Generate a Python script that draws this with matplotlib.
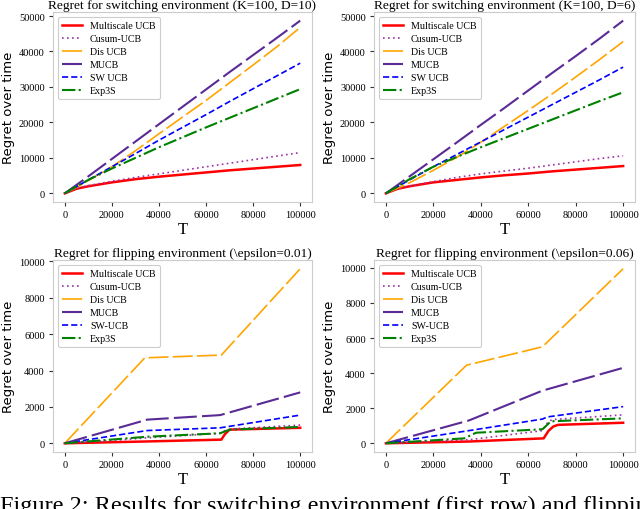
import matplotlib
matplotlib.use("Agg")
import matplotlib.pyplot as plt

# ---------------- data ----------------
labels = ["Multiscale UCB", "Cusum-UCB", "Dis UCB", "MUCB", "SW UCB", "Exp3S"]
labels_flip = ["Multiscale UCB", "Cusum-UCB", "Dis UCB", "MUCB", "SW-UCB", "Exp3S"]

titles = [
    "Regret for switching environment (K=100, D=10)",
    "Regret for switching environment (K=100, D=6)",
    "Regret for flipping environment (\\epsilon=0.01)",
    "Regret for flipping environment (\\epsilon=0.06)",
]

# switching, D=10
sw_t = [0, 5000, 10000, 20000, 30000, 40000, 50000, 60000, 70000, 80000, 90000, 100000]
d10_multiscale = [0, 1300, 2000, 3100, 4000, 4700, 5300, 5900, 6500, 7000, 7500, 8000]
d10_cusum = [0, 1400, 2200, 3400, 4500, 5500, 6500, 7500, 8500, 9500, 10500, 11500]
d10_dis = [0, 1700, 3600, 7500, 12000, 16800, 21500, 26200, 31200, 36200, 41300, 46800]
d10_mucb = [0, 2400, 4800, 9700, 14600, 19500, 24400, 29300, 34200, 39000, 43800, 48700]
d10_sw = [0, 1900, 3800, 7500, 11200, 15000, 18600, 22200, 25900, 29500, 33100, 36700]
d10_exp3s = [0, 2000, 3800, 7000, 10000, 13000, 15800, 18600, 21300, 24000, 26700, 29400]

# switching, D=6
d6_multiscale = [0, 1300, 2000, 3100, 3800, 4500, 5100, 5600, 6200, 6700, 7200, 7700]
d6_cusum = [0, 1400, 2100, 3300, 4500, 5500, 6300, 7100, 8000, 8900, 9800, 10600]
d6_dis = [0, 1500, 3000, 6500, 10200, 14400, 18900, 23400, 28000, 32800, 37700, 42800]
d6_mucb = [0, 2400, 4800, 9600, 14400, 19300, 24100, 29000, 33900, 38700, 43600, 48700]
d6_sw = [0, 1900, 3800, 7500, 11000, 14500, 18000, 21500, 25000, 28500, 32000, 35600]
d6_exp3s = [0, 2000, 4000, 7500, 10300, 13000, 15600, 18200, 20800, 23400, 26000, 28500]

# flipping, eps=0.01
f1_multiscale_t = [0, 35000, 66500, 68000, 70000, 100000]
f1_multiscale = [0, 100, 200, 500, 750, 850]
f1_cusum_t = [0, 20000, 35000, 66000, 68000, 72000, 100000]
f1_cusum = [0, 150, 300, 550, 700, 800, 1000]
f1_dis_t = [0, 34000, 66500, 100000]
f1_dis = [0, 4700, 4850, 9600]
f1_mucb_t = [0, 35000, 66000, 100000]
f1_mucb = [0, 1300, 1550, 2800]
f1_sw_t = [0, 35000, 66000, 100000]
f1_sw = [0, 700, 850, 1550]
f1_exp3s_t = [0, 35000, 66000, 68000, 70000, 100000]
f1_exp3s = [0, 360, 550, 650, 750, 900]

# flipping, eps=0.06
f6_multiscale_t = [0, 35000, 66500, 68500, 70500, 72500, 100000]
f6_multiscale = [0, 100, 280, 700, 950, 1050, 1170]
f6_cusum_t = [0, 35000, 66000, 68000, 70000, 100000]
f6_cusum = [0, 200, 720, 1150, 1350, 1620]
f6_dis_t = [0, 34000, 66000, 100000]
f6_dis = [0, 4450, 5500, 9950]
f6_mucb_t = [0, 35000, 66000, 100000]
f6_mucb = [0, 1300, 3000, 4300]
f6_sw_t = [0, 35000, 66000, 68000, 100000]
f6_sw = [0, 720, 1380, 1500, 2090]
f6_exp3s_t = [0, 33000, 38000, 66000, 68000, 69500, 100000]
f6_exp3s = [0, 280, 600, 800, 1050, 1250, 1420]

panels = [
    [(sw_t, d10_multiscale), (sw_t, d10_cusum), (sw_t, d10_dis), (sw_t, d10_mucb), (sw_t, d10_sw), (sw_t, d10_exp3s)],
    [(sw_t, d6_multiscale), (sw_t, d6_cusum), (sw_t, d6_dis), (sw_t, d6_mucb), (sw_t, d6_sw), (sw_t, d6_exp3s)],
    [(f1_multiscale_t, f1_multiscale), (f1_cusum_t, f1_cusum), (f1_dis_t, f1_dis), (f1_mucb_t, f1_mucb), (f1_sw_t, f1_sw), (f1_exp3s_t, f1_exp3s)],
    [(f6_multiscale_t, f6_multiscale), (f6_cusum_t, f6_cusum), (f6_dis_t, f6_dis), (f6_mucb_t, f6_mucb), (f6_sw_t, f6_sw), (f6_exp3s_t, f6_exp3s)],
]
panel_labels = [labels, labels, labels_flip, labels_flip]

# ---------------- styles ----------------
styles = [
    dict(color="red", lw=1.8, ls="-"),
    dict(color="#a030a8", lw=1.2, ls=(0, (1, 2))),
    dict(color="orange", lw=1.2, ls=(0, (12, 2.5))),
    dict(color="#5a2a96", lw=1.5, ls=(0, (11, 2.5))),
    dict(color="blue", lw=1.2, ls=(0, (3.7, 1.8))),
    dict(color="green", lw=1.5, ls="-."),
]

serif = ["Liberation Serif", "DejaVu Serif"]

fig = plt.figure(figsize=(6.4, 5.1), dpi=100)
positions = [
    [53 / 640, 1 - 203 / 510, (312 - 53) / 640, (203 - 13) / 510],
    [374 / 640, 1 - 203 / 510, (635 - 374) / 640, (203 - 13) / 510],
    [53 / 640, 1 - 453 / 510, (312 - 53) / 640, (453 - 261) / 510],
    [374 / 640, 1 - 453 / 510, (635 - 374) / 640, (453 - 261) / 510],
]

for i in range(4):
    ax = fig.add_axes(positions[i])
    for (t, y), st, lab in zip(panels[i], styles, panel_labels[i]):
        ax.plot(t, y, color=st["color"], lw=st["lw"], linestyle=st["ls"], label=lab)
    ax.set_xticks([0, 20000, 40000, 60000, 80000, 100000])
    if i < 2:
        ax.set_yticks([0, 10000, 20000, 30000, 40000, 50000])
    else:
        ax.set_yticks([0, 2000, 4000, 6000, 8000, 10000])
    for lab in ax.get_xticklabels() + ax.get_yticklabels():
        lab.set_family(serif)
        lab.set_fontsize(7.5)
    ax.tick_params(length=3, width=0.8, color="#333333", pad=3)
    for sp in ax.spines.values():
        sp.set_color("#cccccc")
        sp.set_linewidth(0.8)
    ax.set_title(titles[i], family=serif, fontsize=9.6, pad=3)
    ax.set_xlabel("T", family=serif, fontsize=12, labelpad=1)
    ax.set_ylabel("Regret over time", family="DejaVu Sans", fontsize=9.5, labelpad=3)
    leg = ax.legend(loc="upper left", prop=dict(family=serif, size=7.2),
                    handlelength=2.0, labelspacing=0.4, borderpad=0.4,
                    framealpha=1.0, edgecolor="#cccccc")
    leg.get_frame().set_linewidth(0.8)

fig.text(0.0, -0.004, "Figure 2: Results for switching environment (first row) and flipping environment",
         family=serif, fontsize=17.5, ha="left", va="baseline")

fig.savefig("out.png", dpi=100)
